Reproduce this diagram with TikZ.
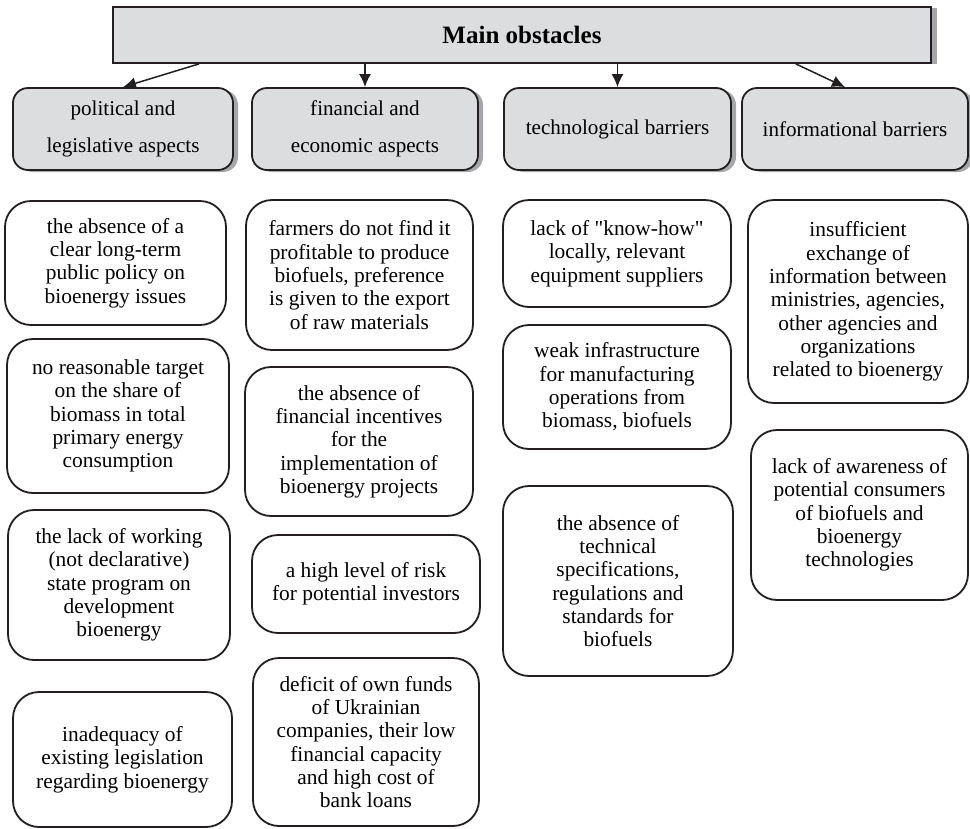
\documentclass[tikz,border=0pt]{standalone}
\usepackage{fontspec}
\setmainfont{Liberation Serif}[Ligatures=TeXOff]
\usetikzlibrary{arrows.meta,shadows,calc}
\definecolor{boxline}{HTML}{231F20}
\definecolor{panelgray}{HTML}{DCDDDF}
\definecolor{shadegray}{HTML}{A6A7AB}
\tikzset{
  headbox/.style={draw=boxline, line width=1.8pt, fill=panelgray,
    drop shadow={shadow xshift=6pt, shadow yshift=-1pt, fill=shadegray, opacity=1},
    inner sep=0pt, align=center},
  catbox/.style={draw=boxline, line width=1.8pt, fill=panelgray, rounded corners=15pt,
    drop shadow={shadow xshift=5pt, shadow yshift=-2pt, fill=shadegray, opacity=1},
    inner sep=0pt, align=center, font=\fontsize{21.1pt}{37pt}\selectfont},
  itembox/.style={draw=boxline, line width=1.8pt, fill=white, rounded corners=26pt,
    inner sep=0pt, align=center, font=\fontsize{21.4pt}{23.3pt}\selectfont},
  arr/.style={draw=boxline, line width=1.5pt, -{Latex[length=13pt,width=12pt]}}
}
\begin{document}
\begin{tikzpicture}[x=1pt,y=-1pt]
\useasboundingbox (0,0) rectangle (970,828);

% header
\node[headbox, minimum width=818pt, minimum height=56pt] (hdr) at (522,35)
  {\fontsize{25pt}{30pt}\selectfont\bfseries Main obstacles};

% categories
\node[catbox, minimum width=220pt, minimum height=82pt] (cat1) at (123,129)
  {political and\\legislative aspects};
\node[catbox, minimum width=226pt, minimum height=82pt] (cat2) at (365,129)
  {financial and\\economic aspects};
\node[catbox, minimum width=227pt, minimum height=82pt] (cat3) at (617.5,129)
  {technological barriers};
\node[catbox, minimum width=226pt, minimum height=82pt] (cat4) at (855,129)
  {informational barriers};

% connectors
\draw[arr] ($(hdr.south west)!0.106!(hdr.south east)$) -- (cat1.north);
\draw[arr] (hdr.south -| cat2.north) -- (cat2.north);
\draw[arr] (hdr.south -| cat3.north) -- (cat3.north);
\draw[arr] ($(hdr.south west)!0.834!(hdr.south east)$) -- ([xshift=-10pt]cat4.north);

% political and legislative
\node[itembox, minimum width=221pt, minimum height=124pt] (a1) at (115.5,263)
  {the absence of a\\clear long-term\\public policy on\\bioenergy issues};
\node[itembox, minimum width=222pt, minimum height=154pt] (a2) at (118,416)
  {no reasonable target\\on the share of\\biomass in total\\primary energy\\consumption};
\node[itembox, minimum width=222pt, minimum height=150pt] (a3) at (119,585)
  {the lack of working\\(not declarative)\\state program on\\development\\bioenergy};
\node[itembox, minimum width=219pt, minimum height=135pt] (a4) at (122.5,759.5)
  {inadequacy of\\existing legislation\\regarding bioenergy};

% financial and economic
\node[itembox, minimum width=227pt, minimum height=150pt] (b1) at (359.5,275)
  {farmers do not find it\\profitable to produce\\biofuels, preference\\is given to the export\\of raw materials};
\node[itembox, minimum width=228pt, minimum height=149pt] (b2) at (359,441.5)
  {the absence of\\financial incentives\\for the\\implementation of\\bioenergy projects};
\node[itembox, minimum width=228pt, minimum height=98pt] (b3) at (366,584)
  {a high level of risk\\for potential investors};
\node[itembox, minimum width=226pt, minimum height=168pt] (b4) at (366,742)
  {deficit of own funds\\of Ukrainian\\companies, their low\\financial capacity\\and high cost of\\bank loans};

% technological
\node[itembox, minimum width=228pt, minimum height=107pt] (c1) at (617,253.5)
  {lack of "know-how"\\locally, relevant\\equipment suppliers};
\node[itembox, minimum width=228pt, minimum height=124pt] (c2) at (617,387)
  {weak infrastructure\\for manufacturing\\operations from\\biomass, biofuels};
\node[itembox, minimum width=230pt, minimum height=190pt] (c3) at (618,581)
  {the absence of\\technical\\specifications,\\regulations and\\standards for\\biofuels};

% informational
\node[itembox, minimum width=220pt, minimum height=203pt] (d1) at (858,301.5)
  {insufficient\\exchange of\\information between\\ministries, agencies,\\other agencies and\\organizations\\related to bioenergy};
\node[itembox, minimum width=217pt, minimum height=170pt] (d2) at (859.5,515)
  {lack of awareness of\\potential consumers\\of biofuels and\\bioenergy\\technologies};
\end{tikzpicture}
\end{document}
